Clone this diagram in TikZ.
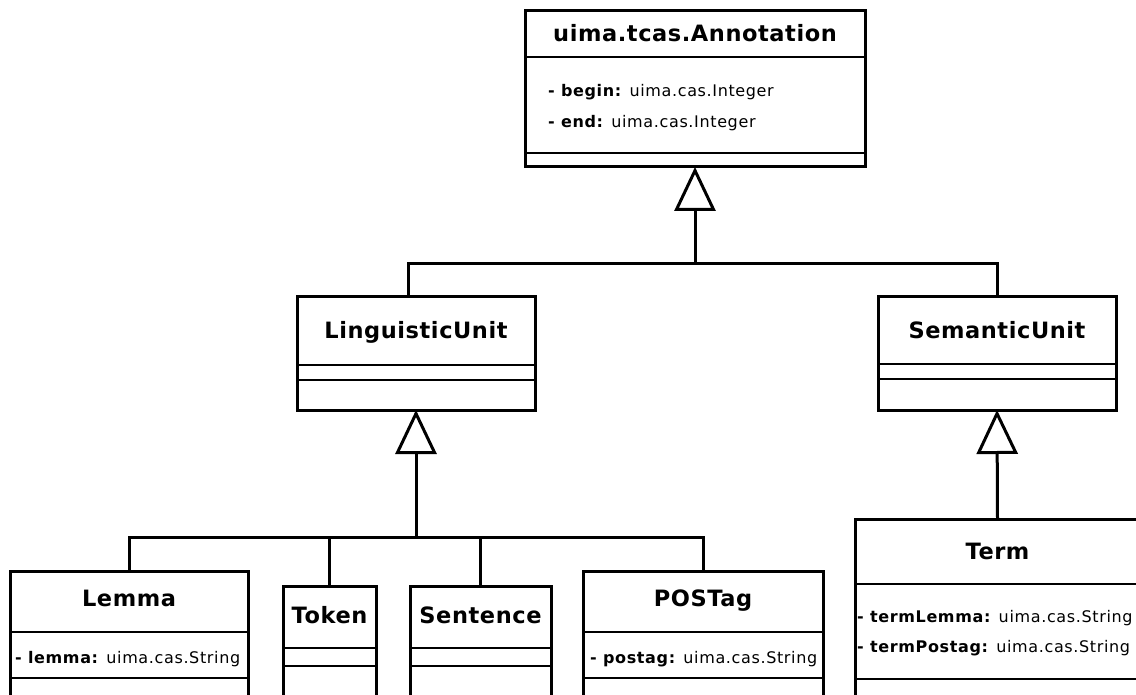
\documentclass[tikz,border=0pt]{standalone}
\usepackage{fontspec}
\setmainfont{DejaVu Sans}
\newfontfamily\umltitlefont[LetterSpace=2.5]{DejaVu Sans}
\newfontfamily\umlattrfont[LetterSpace=4]{DejaVu Sans}
\usetikzlibrary{arrows.meta}

\tikzset{
  classbox/.style={draw, line width=3pt, rectangle, inner sep=0pt, outer sep=0pt, anchor=north west},
  sepline/.style={line width=2pt},
  classname/.style={anchor=base, inner sep=0pt, font=\fontsize{22.5}{26}\umltitlefont\bfseries},
  attr/.style={anchor=base west, inner sep=0pt, font=\fontsize{16}{19}\umlattrfont},
  link/.style={line width=3pt},
  inherit/.style={link, -{Triangle[open, length=44pt, width=41pt]}},
}

% horizontal compartment separator of a class box at height #2
\newcommand{\compartment}[2]{\draw[sepline] (#1.west |- 0,#2) -- (#1.east |- 0,#2);}

\begin{document}
\begin{tikzpicture}[x=1pt, y=-1pt]
  \useasboundingbox (0,0) rectangle (1136,695);
  \fill[white] (0,0) rectangle (1136,695);
  \clip (0,0) rectangle (1136,695);

  % ---- uima.tcas.Annotation
  \node[classbox, minimum width=340pt, minimum height=156pt] (annot) at (525,11) {};
  \node[classname] (annotT) at (695,42) {uima.tcas.Annotation};
  \node[attr] (annotA1) at (548,97) {\textbf{- begin:} uima.cas.Integer};
  \node[attr] (annotA2) at (548,128) {\textbf{- end:} uima.cas.Integer};
  \compartment{annot}{57}
  \compartment{annot}{153}

  % ---- LinguisticUnit
  \node[classbox, minimum width=238pt, minimum height=113pt] (ling) at (297,297) {};
  \node[classname] (lingT) at (416,338) {LinguisticUnit};
  \compartment{ling}{365}
  \compartment{ling}{380}

  % ---- SemanticUnit
  \node[classbox, minimum width=238pt, minimum height=113pt] (sem) at (878,297) {};
  \node[classname] (semT) at (997,338) {SemanticUnit};
  \compartment{sem}{364}
  \compartment{sem}{379}

  % ---- Lemma
  \node[classbox, minimum width=238pt, minimum height=149pt] (lemma) at (10,571) {};
  \node[classname] (lemmaT) at (129,606) {Lemma};
  \node[attr] (lemmaA) at (15,663) {\textbf{- lemma:} uima.cas.String};
  \compartment{lemma}{632}
  \compartment{lemma}{678}

  % ---- Token
  \node[classbox, minimum width=93pt, minimum height=134pt] (token) at (283,586) {};
  \node[classname] (tokenT) at (329.5,623) {Token};
  \compartment{token}{648}
  \compartment{token}{666}

  % ---- Sentence
  \node[classbox, minimum width=141pt, minimum height=134pt] (sentence) at (410,586) {};
  \node[classname] (sentenceT) at (480.5,623) {Sentence};
  \compartment{sentence}{648}
  \compartment{sentence}{666}

  % ---- POSTag
  \node[classbox, minimum width=240pt, minimum height=149pt] (postag) at (583,571) {};
  \node[classname] (postagT) at (703,606) {POSTag};
  \node[attr] (postagA) at (590,663) {\textbf{- postag:} uima.cas.String};
  \compartment{postag}{632}
  \compartment{postag}{678}

  % ---- Term
  \node[classbox, minimum width=285pt, minimum height=201pt] (term) at (855,519) {};
  \node[classname] (termT) at (997.5,559) {Term};
  \node[attr] (termA1) at (857,622) {\textbf{- termLemma:} uima.cas.String};
  \node[attr] (termA2) at (857,652) {\textbf{- termPostag:} uima.cas.String};
  \compartment{term}{584}
  \compartment{term}{679}

  % ---- generalisation connectors
  \coordinate (busTop) at (695,264);
  \coordinate (busLing) at (416,537);

  \draw[inherit] (busTop) -- (annot.south);
  \draw[link] ([xshift=-8pt]ling.north) |- (busTop) -| (sem.north);

  \draw[inherit] (busLing) -- (ling.south);
  \draw[link] (lemma.north) |- (busLing) -| (postag.north);
  \draw[link] (token.north) -- (token.north |- busLing);
  \draw[link] (sentence.north) -- (sentence.north |- busLing);

  \draw[inherit] (term.north) -- (sem.south);
\end{tikzpicture}
\end{document}
